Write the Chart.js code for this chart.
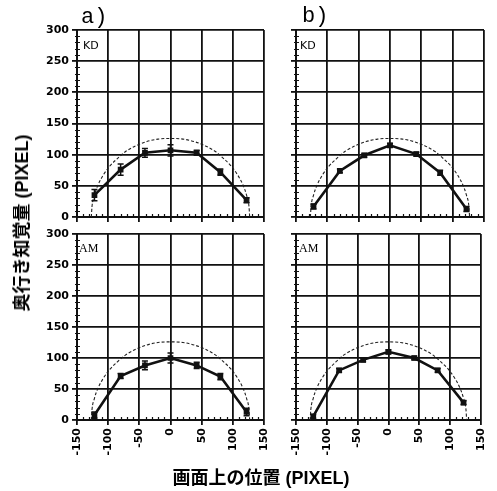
<!DOCTYPE html>
<html>
<head>
<meta charset="utf-8">
<script src="https://cdn.jsdelivr.net/npm/chart.js@4"></script>
<style>
  html, body { margin: 0; padding: 0; background: #fff; }
  #wrap { position: relative; width: 497px; height: 491px; overflow: hidden; }
  #wrap canvas { position: absolute; left: 0; top: 0; }
  .lbl { position: absolute; color: #000; white-space: nowrap; line-height: 1; }
  .panel { font-family: "Liberation Mono", "DejaVu Sans Mono", monospace; font-size: 22px; }
  .tag { font-size: 11px; }
  .axt { font-family: "Liberation Sans", "Noto Sans CJK JP", sans-serif; font-weight: bold; font-size: 18px; }
</style>
</head>
<body>
<div id="wrap">
  <canvas id="cKDa" width="497" height="491"></canvas>
  <canvas id="cKDb" width="497" height="491"></canvas>
  <canvas id="cAMa" width="497" height="491"></canvas>
  <canvas id="cAMb" width="497" height="491"></canvas>
  <div class="lbl panel" style="left:81px; top:7px;">a)</div>
  <div class="lbl panel" style="left:302px; top:6px;">b)</div>
  <div class="lbl tag" style="left:83px; top:40px; font-family:'DejaVu Sans',sans-serif;">KD</div>
  <div class="lbl tag" style="left:300px; top:40px; font-family:'DejaVu Sans',sans-serif;">KD</div>
  <div class="lbl tag" style="left:79px; top:242px; font-family:'Liberation Serif',serif; font-size:12px;">AM</div>
  <div class="lbl tag" style="left:299px; top:242px; font-family:'Liberation Serif',serif; font-size:12px;">AM</div>
  <div class="lbl axt" style="left:22px; top:223px; transform: translate(-50%,-50%) rotate(-90deg);">奥行き知覚量 (PIXEL)</div>
  <div class="lbl axt" style="left:261px; top:478px; transform: translate(-50%,-50%);">画面上の位置 (PIXEL)</div>
</div>
<script>
// Stimulus positions on the screen (PIXEL)
const positions = [-122, -80, -41, 0, 42, 80, 122];

// Perceived depth, subject KD
const kdA = [35, 76, 103, 107, 103, 72, 27];
const kdAErr = [9, 9, 7, 9, 4, 5, 4];
const kdB = [17, 74, 99, 115, 101, 71, 13];
const kdBErr = [4, 3, 3, 3, 3, 4, 4];

// Perceived depth, subject AM
const amA = [8, 71, 88, 100, 88, 70, 13];
const amAErr = [5, 4, 7, 8, 5, 5, 6];
const amB = [6, 80, 97, 110, 100, 80, 28];
const amBErr = [3, 3, 3, 3, 3, 3, 3];

// Dashed reference curve
const refX = [-127, -126, -122, -116, -108, -98, -86, -72, -56, -38, -20, 0, 20, 38, 56, 72, 86, 98, 108, 116, 122, 126, 127];
const refY = [0, 16, 35, 52, 67, 81, 93, 105, 114, 121, 125, 126, 125, 121, 114, 105, 93, 81, 67, 52, 35, 16, 0];

// Axis ticks
const xTicks = [-150, -100, -50, 0, 50, 100, 150];
const yTicks = [0, 50, 100, 150, 200, 250, 300];

const W = 497, H = 491;
const INK = '#111';

// Small tick marks every 10 units along the left and bottom axes
const minorTicks = {
  id: 'minorTicks',
  afterDraw(chart) {
    const { ctx, scales: { x, y }, chartArea: a } = chart;
    ctx.save();
    ctx.strokeStyle = INK;
    ctx.lineWidth = 1.2;
    ctx.beginPath();
    for (let v = xTicks[0]; v <= xTicks[xTicks.length - 1]; v += 10) {
      if (v % 50 === 0) continue;
      const px = Math.round(x.getPixelForValue(v)) + 0.5;
      ctx.moveTo(px, a.bottom - 3);
      ctx.lineTo(px, a.bottom + 1);
    }
    for (let v = yTicks[0]; v <= yTicks[yTicks.length - 1]; v += 10) {
      if (v % 50 === 0) continue;
      const py = Math.round(y.getPixelForValue(v)) + 0.5;
      ctx.moveTo(a.left - 2, py);
      ctx.lineTo(a.left + 3, py);
    }
    ctx.stroke();
    ctx.restore();
  }
};

// Vertical error bars with caps for datasets carrying an "errors" array
const errorBars = {
  id: 'errorBars',
  afterDatasetsDraw(chart) {
    const { ctx, scales: { y } } = chart;
    chart.data.datasets.forEach((ds, i) => {
      if (!ds.errors) return;
      const meta = chart.getDatasetMeta(i);
      ctx.save();
      ctx.strokeStyle = INK;
      ctx.lineWidth = 1.5;
      meta.data.forEach((pt, j) => {
        const v = ds.data[j].y, e = ds.errors[j];
        const top = y.getPixelForValue(v + e), bot = y.getPixelForValue(v - e);
        ctx.beginPath();
        ctx.moveTo(pt.x, top); ctx.lineTo(pt.x, bot);
        ctx.moveTo(pt.x - 3, top); ctx.lineTo(pt.x + 3, top);
        ctx.moveTo(pt.x - 3, bot); ctx.lineTo(pt.x + 3, bot);
        ctx.stroke();
      });
      ctx.restore();
    });
  }
};

function makePanel(id, values, errors, rect, showX, showY) {
  const [L, T, R, B] = rect;
  const yW = showY ? 40 : 6;
  const xH = showX ? 42 : 6;
  const tickFont = { family: 'DejaVu Sans', size: 11, weight: 'bold' };
  new Chart(document.getElementById(id), {
    type: 'line',
    data: {
      datasets: [
        {
          data: refX.map((v, i) => ({ x: v, y: refY[i] })),
          borderColor: '#222',
          borderWidth: 1.1,
          borderDash: [3, 2],
          pointRadius: 0,
          cubicInterpolationMode: 'monotone',
          fill: false
        },
        {
          data: positions.map((v, i) => ({ x: v, y: values[i] })),
          errors: errors,
          borderColor: INK,
          borderWidth: 2.6,
          pointStyle: 'rect',
          pointRadius: 2.2,
          pointBackgroundColor: INK,
          pointBorderColor: INK,
          tension: 0,
          fill: false
        }
      ]
    },
    options: {
      responsive: false,
      animation: false,
      events: [],
      layout: { padding: { left: L - yW, top: T, right: W - R, bottom: H - B - xH } },
      plugins: { legend: { display: false }, tooltip: { enabled: false } },
      scales: {
        x: {
          type: 'linear',
          min: xTicks[0], max: xTicks[xTicks.length - 1],
          afterBuildTicks: s => { s.ticks = xTicks.map(v => ({ value: v })); },
          afterFit: s => { s.height = xH; },
          grid: { color: INK, lineWidth: 1.8, tickLength: 5, tickColor: INK },
          border: { display: true, color: INK, width: 2 },
          ticks: {
            display: showX, autoSkip: false, minRotation: 90, maxRotation: 90,
            padding: 3, color: '#000', font: tickFont
          }
        },
        y: {
          min: yTicks[0], max: yTicks[yTicks.length - 1],
          afterBuildTicks: s => { s.ticks = yTicks.map(v => ({ value: v })); },
          afterFit: s => { s.width = yW; },
          grid: { color: INK, lineWidth: 1.8, tickLength: 5, tickColor: INK },
          border: { display: true, color: INK, width: 2 },
          ticks: { display: showY, padding: 3, color: '#000', font: tickFont }
        }
      }
    },
    plugins: [minorTicks, errorBars]
  });
}

makePanel('cKDa', kdA, kdAErr, [77, 30, 264, 217], false, true);
makePanel('cKDb', kdB, kdBErr, [296, 30, 484, 217], false, false);
makePanel('cAMa', amA, amAErr, [77, 234, 264, 420], true, true);
makePanel('cAMb', amB, amBErr, [296, 234, 484, 420], true, false);
</script>
</body>
</html>
